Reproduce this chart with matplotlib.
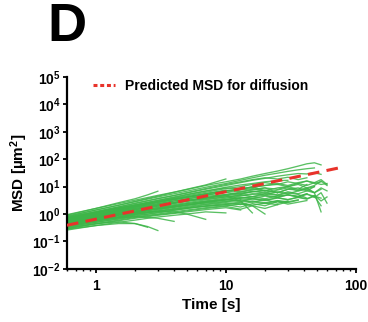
import numpy as np
import matplotlib
matplotlib.use("Agg")
import matplotlib.pyplot as plt
from matplotlib.lines import Line2D
from matplotlib.ticker import NullLocator, LogLocator, FixedLocator

plt.rcParams['font.family'] = ['Liberation Sans', 'DejaVu Sans']
plt.rcParams['font.weight'] = 'bold'
plt.rcParams['mathtext.fontset'] = 'custom'
plt.rcParams['mathtext.rm'] = 'Liberation Sans:bold'
plt.rcParams['mathtext.bf'] = 'Liberation Sans:bold'
plt.rcParams['mathtext.it'] = 'Liberation Sans:bold:italic'
plt.rcParams['mathtext.default'] = 'bf'

# lag times shared by all tracks (s); each track stops at its own length
lag_t = [0.6, 1, 1.5, 2, 2.5, 3, 4, 5, 7, 10, 13, 16, 20, 25, 30, 36, 42, 48, 54, 60]

# MSD of individual tracks (um^2)
msd_tracks = [
    [0.95, 1.6, 2.4, 3.2, 4.0, 4.8, 6.3, 7.8, 11, 15, 19, 24, 30, 37, 45, 56, 68, 74, 62],
    [0.85, 1.4, 2.1, 2.8, 3.5, 4.2, 5.5, 6.8, 9.5, 13, 17, 21, 26, 31, 36, 41, 45, 48],
    [0.9, 1.6, 2.6, 3.6, 5.0, 6.8],
    [0.8, 1.4, 2.1, 2.9, 3.7, 4.5, 6.2, 8, 11.5, 19],
    [0.75, 1.2, 1.8, 2.4, 3.0, 3.6, 4.7, 5.8, 8, 11, 14, 17, 20, 24, 27, 30, 29, 32, 28],
    [0.7, 1.1, 1.6, 2.1, 2.6, 3.1, 4.0, 5.0, 6.8, 9.5, 11.5, 13, 15, 16.5, 17],
    [0.6, 0.95, 1.4, 1.8, 2.2, 2.6, 3.3, 4.0, 5.3, 7.0, 8.5, 9.5, 11, 12, 10, 13, 11, 14, 12, 13],
    [0.55, 0.85, 1.2, 1.5, 1.8, 2.1, 2.6, 3.1, 4.0, 5.2, 6.3, 7.5, 9, 8, 10, 12, 9, 11, 16, 11],
    [0.5, 0.8, 1.1, 1.4, 1.65, 1.9, 2.4, 2.9, 3.7, 4.8, 5.5, 6.5, 7, 6, 8, 7.5, 9, 6, 8],
    [0.45, 0.7, 0.95, 1.2, 1.4, 1.6, 2.0, 2.4, 3.0, 3.8, 4.5, 5.2, 6, 5, 6.5, 5.5, 7, 6, 1.2],
    [0.42, 0.65, 0.9, 1.1, 1.3, 1.5, 1.8, 2.1, 2.6, 3.2, 3.8, 4.3, 4.8, 4.2, 5, 4.5, 5.5, 4, 6, 2.5],
    [0.4, 0.6, 0.8, 1.0, 1.15, 1.3, 1.6, 1.9, 2.3, 2.8, 3.2, 3.6, 3.2, 3.8, 3.4, 4, 3.5, 4.5, 3.8],
    [0.38, 0.55, 0.72, 0.9, 1.0, 1.15, 1.4, 1.6, 2.0, 2.4, 2.7, 3.0, 2.6, 3.1, 2.8, 3.3],
    [0.35, 0.5, 0.65, 0.8, 0.9, 1.0, 1.2, 1.4, 1.7, 2.0, 2.3, 2.1, 2.5, 2.2, 2.8],
    [0.3, 0.45, 0.6, 0.75, 0.85, 0.95, 1.1, 1.3, 1.6, 1.9, 1.5, 2.0, 1.0],
    [0.28, 0.38, 0.45, 0.45, 0.35, 0.25],
    [0.32, 0.45, 0.52, 0.45, 0.33],
    [0.45, 0.62, 0.75, 0.8, 0.75, 0.7, 0.54],
    [0.5, 0.75, 0.95, 1.1, 1.2, 1.25, 1.2, 1.0, 0.64],
    [0.65, 1.0, 1.4, 1.8, 2.1, 2.4, 3.0, 3.5, 4.5, 5, 3.5],
    [0.55, 0.9, 1.3, 1.6, 1.9, 2.2, 2.7, 3.2, 3.9, 4.5, 3, 1.1],
    [0.7, 1.15, 1.7, 2.2, 2.7, 3.2, 4.2, 5.2, 7, 9, 8, 10, 7],
    [0.62, 1.0, 1.45, 1.9, 2.3, 2.7, 3.5, 4.2, 5.6, 7.5, 6.5, 8, 9, 6],
    [0.58, 0.92, 1.3, 1.7, 2.0, 2.35, 3.0, 3.6, 4.8, 6.3, 7.5, 8.5, 7, 9, 10, 8, 12],
    [0.52, 0.82, 1.15, 1.45, 1.7, 1.95, 2.5, 3.0, 3.9, 5.0, 5.8, 6.5, 7.5, 6, 8, 9, 7, 10],
    [0.48, 0.75, 1.05, 1.3, 1.5, 1.75, 2.2, 2.6, 3.3, 4.2, 4.8, 5.5, 5, 6.5, 5.5, 7, 8, 6, 9, 7],
    [0.44, 0.68, 0.92, 1.15, 1.35, 1.55, 1.9, 2.2, 2.8, 3.5, 4.0, 3.6, 4.5, 4, 5, 4.2, 5.5],
    [0.4, 0.62, 0.85, 1.05, 1.2, 1.4, 1.75, 2.1, 2.7, 3.3, 3.8, 4.2, 3.6, 4.6, 5, 4.2, 5.2, 4.5, 2.0],
    [0.36, 0.55, 0.75, 0.95, 1.1, 1.25, 1.5, 1.75, 2.2, 2.6, 2.2, 2.8, 2.4, 3, 2.6, 3.2],
    [0.33, 0.5, 0.68, 0.85, 0.98, 1.1, 1.35, 1.6, 1.95, 2.2, 2.5, 2.0, 1.6, 2.2],
    [0.68, 1.1, 1.6, 2.0, 2.5, 2.9, 3.8, 4.6, 6.2, 8.5, 10, 12, 14, 12, 15, 13, 16, 14, 18, 12],
    [0.26, 0.38, 0.5, 0.6, 0.7, 0.78, 0.9, 1.0, 1.2, 1.1],
    [0.78, 1.25, 1.85, 2.5, 3.1, 3.7, 4.8, 6, 8.5, 12, 15, 18, 21, 19, 22, 18, 21],
    [0.72, 1.15, 1.65, 2.1, 2.5, 2.9, 3.6, 4.3, 5.5, 7, 8, 9.5, 11, 13, 11, 14, 16, 13, 15],
    [0.66, 1.05, 1.5, 1.95, 2.35, 2.75, 3.4, 4.0, 5.0, 6.2, 5.2, 6.8, 5.8, 7.5, 9, 7, 8.5, 10],
    [0.57, 0.88, 1.25, 1.6, 1.85, 2.1, 2.6, 3.0, 3.5, 4.2, 5.0, 4.3, 5.5, 4.8, 6, 5.2, 3.8],
    [0.5, 0.78, 1.05, 1.3, 1.5, 1.7, 2.05, 2.4, 2.9, 3.4, 2.8, 3.6, 3.1, 4.0, 3.3, 4.2, 3.6, 4.8, 3.0, 4.2],
    [0.47, 0.72, 0.98, 1.2, 1.4, 1.55, 1.85, 2.1, 2.5, 2.9, 3.3, 2.7, 3.4, 2.5, 3.0],
    [0.37, 0.57, 0.78, 0.98, 1.12, 1.25, 1.5, 1.7, 1.9, 2.2, 1.8, 2.4, 2.0, 2.9, 2.3, 2.7, 3.1],
    [0.29, 0.43, 0.57, 0.7, 0.8, 0.9, 1.05, 1.2, 1.45, 1.7, 1.4],
]

# predicted MSD for free diffusion
pred_t = [0.6, 80]
pred_msd = [0.39, 52]

x_ticks = [1, 10, 100]
x_ticklabels = ['1', '10', '100']
y_ticks = [1e-2, 1e-1, 1e0, 1e1, 1e2, 1e3, 1e4, 1e5]
y_ticklabels = [r'$10^{-2}$', r'$10^{-1}$', r'$10^{0}$', r'$10^{1}$',
                r'$10^{2}$', r'$10^{3}$', r'$10^{4}$', r'$10^{5}$']

green = '#3db548'
red = '#e8332b'

fig = plt.figure(figsize=(3.68, 3.22), dpi=100)
ax = fig.add_axes([0.182, 0.165, 0.785, 0.596])

for track in msd_tracks:
    ax.plot(lag_t[:len(track)], track, color=green, lw=0.95, alpha=0.85, zorder=2)

ax.plot(pred_t, pred_msd, color=red, lw=2.2, dashes=(3.8, 2.4), zorder=3)

ax.set_xscale('log')
ax.set_yscale('log')
ax.set_xlim(0.6, 100)
ax.set_ylim(1e-2, 1e5)

ax.xaxis.set_major_locator(FixedLocator(x_ticks))
ax.set_xticklabels(x_ticklabels)
ax.xaxis.set_minor_locator(LogLocator(base=10, subs=np.arange(2, 10)))
ax.yaxis.set_major_locator(FixedLocator(y_ticks))
ax.set_yticklabels(y_ticklabels)
ax.yaxis.set_minor_locator(NullLocator())

for side in ['top', 'right']:
    ax.spines[side].set_visible(False)
for side in ['left', 'bottom']:
    ax.spines[side].set_linewidth(1.6)

ax.tick_params(which='major', length=3, width=1.3, labelsize=10, pad=1.5)
ax.tick_params(axis='x', which='major', pad=4)
ax.tick_params(which='minor', length=1.6, width=1.0)

ax.set_xlabel('Time [s]', fontsize=11, fontweight='bold', labelpad=4)
ax.set_ylabel('MSD [µm$^{2}$]', fontsize=11, fontweight='bold', labelpad=2)

handle = Line2D([], [], color=red, lw=2.2, dashes=(1.3, 0.9))
ax.legend([handle], ['Predicted MSD for diffusion'], loc='center left',
          bbox_to_anchor=(0.09, 0.953), frameon=False, handlelength=1.6,
          handletextpad=0.7, borderpad=0, borderaxespad=0,
          prop={'size': 10, 'weight': 'bold'})

fig.text(0.13, 0.995, 'D', fontsize=39, fontweight='bold', va='top', ha='left')

fig.savefig('out.png', dpi=100)
